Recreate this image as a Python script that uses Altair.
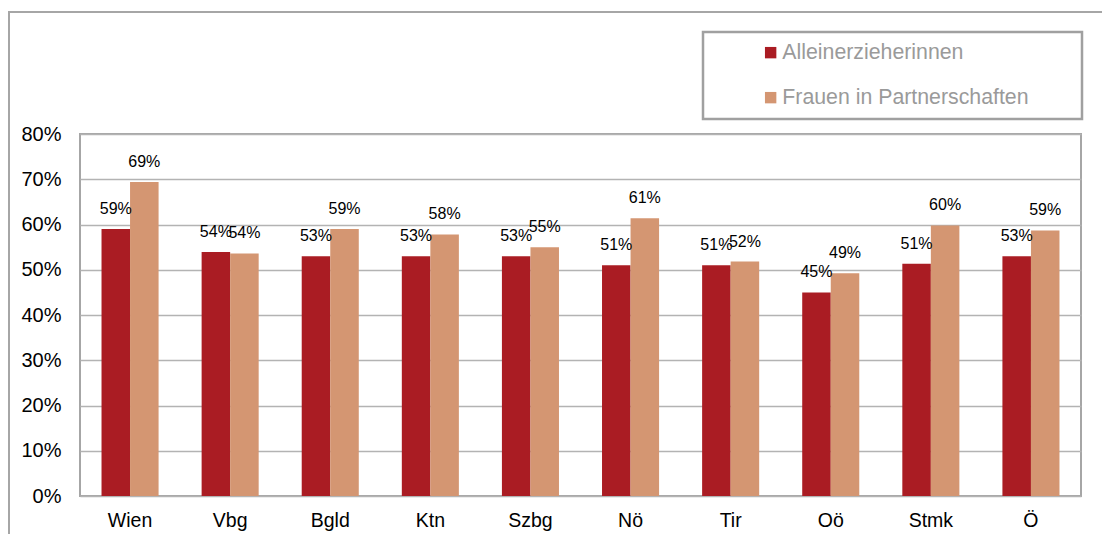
import altair as alt
import pandas as pd

categories = ["Wien", "Vbg", "Bgld", "Ktn", "Szbg", "Nö", "Tir", "Oö", "Stmk", "Ö"]
series = ["Alleinerzieherinnen", "Frauen in Partnerschaften"]
allein = [59.0, 53.9, 53.0, 53.0, 53.0, 51.0, 51.0, 45.0, 51.3, 53.0]
partner = [69.4, 53.6, 59.0, 57.8, 55.0, 61.4, 51.8, 49.2, 59.8, 58.7]
colors = ["#AA1C23", "#D49672"]
y_ticks = [0.0, 0.1, 0.2, 0.3, 0.4, 0.5, 0.6, 0.7, 0.8]

rows = []
for i, c in enumerate(categories):
    rows.append({"Land": c, "Gruppe": series[0], "Wert": allein[i] / 100})
    rows.append({"Land": c, "Gruppe": series[1], "Wert": partner[i] / 100})
df = pd.DataFrame(rows)

FONT = "Liberation Sans"
W, H = 1001, 362

x = alt.X(
    "Land:N", sort=categories,
    scale=alt.Scale(paddingInner=0.43, paddingOuter=0.215),
    axis=alt.Axis(title=None, labelAngle=0, labelFontSize=19.5, labelColor="#000000",
                  labelPadding=15, ticks=False, tickSize=0, domain=False, grid=False,
                  labelFont=FONT),
)
xo = alt.XOffset("Gruppe:N", sort=series, scale=alt.Scale(domain=series))
y = alt.Y(
    "Wert:Q",
    scale=alt.Scale(domain=[0, 0.8], nice=False),
    axis=alt.Axis(title=None, format=".0%", values=y_ticks, labelFontSize=20,
                  labelColor="#000000", labelPadding=19, ticks=False, tickSize=0,
                  domain=False, labelFont=FONT, grid=True),
)
color = alt.Color(
    "Gruppe:N",
    scale=alt.Scale(domain=series, range=colors),
    legend=alt.Legend(title=None, orient="none", legendX=680, legendY=-92,
                      direction="vertical", symbolType="square", symbolSize=130,
                      symbolStrokeWidth=0, labelFontSize=21.3, labelColor="#9a9a9a",
                      labelFont=FONT, rowPadding=23, labelOffset=1, padding=0,
                      labelLimit=500),
)

frame_df = pd.DataFrame({"k": [0]})

outer = alt.Chart(frame_df).mark_rect(fillOpacity=0, stroke="#a6a6a6", strokeWidth=2).encode(
    x=alt.value(-71), x2=alt.value(1200), y=alt.value(-122), y2=alt.value(700)
)
legend_box = alt.Chart(frame_df).mark_rect(fillOpacity=0, stroke="#a0a0a0", strokeWidth=2.5).encode(
    x=alt.value(623), x2=alt.value(1002), y=alt.value(-102), y2=alt.value(-15)
)

bars = alt.Chart(df).mark_bar().encode(x=x, xOffset=xo, y=y, color=color)
labels = alt.Chart(df).mark_text(fontSize=16, baseline="middle", dy=-20, font=FONT,
                                 color="#000000").encode(
    x=alt.X("Land:N", sort=categories), xOffset=xo, y=alt.Y("Wert:Q"),
    text=alt.Text("Wert:Q", format=".0%")
)

chart = alt.layer(outer, legend_box, bars, labels).properties(
    width=W, height=H,
    autosize=alt.AutoSizeParams(type="none"),
    padding={"left": 72, "top": 126, "right": 21, "bottom": 38},
).configure_view(stroke="#a6a6a6", strokeWidth=2).configure_axis(
    gridColor="#b3b3b3", gridWidth=1.5
)

chart.save("out.html", embed_options={"renderer": "svg", "actions": False})
